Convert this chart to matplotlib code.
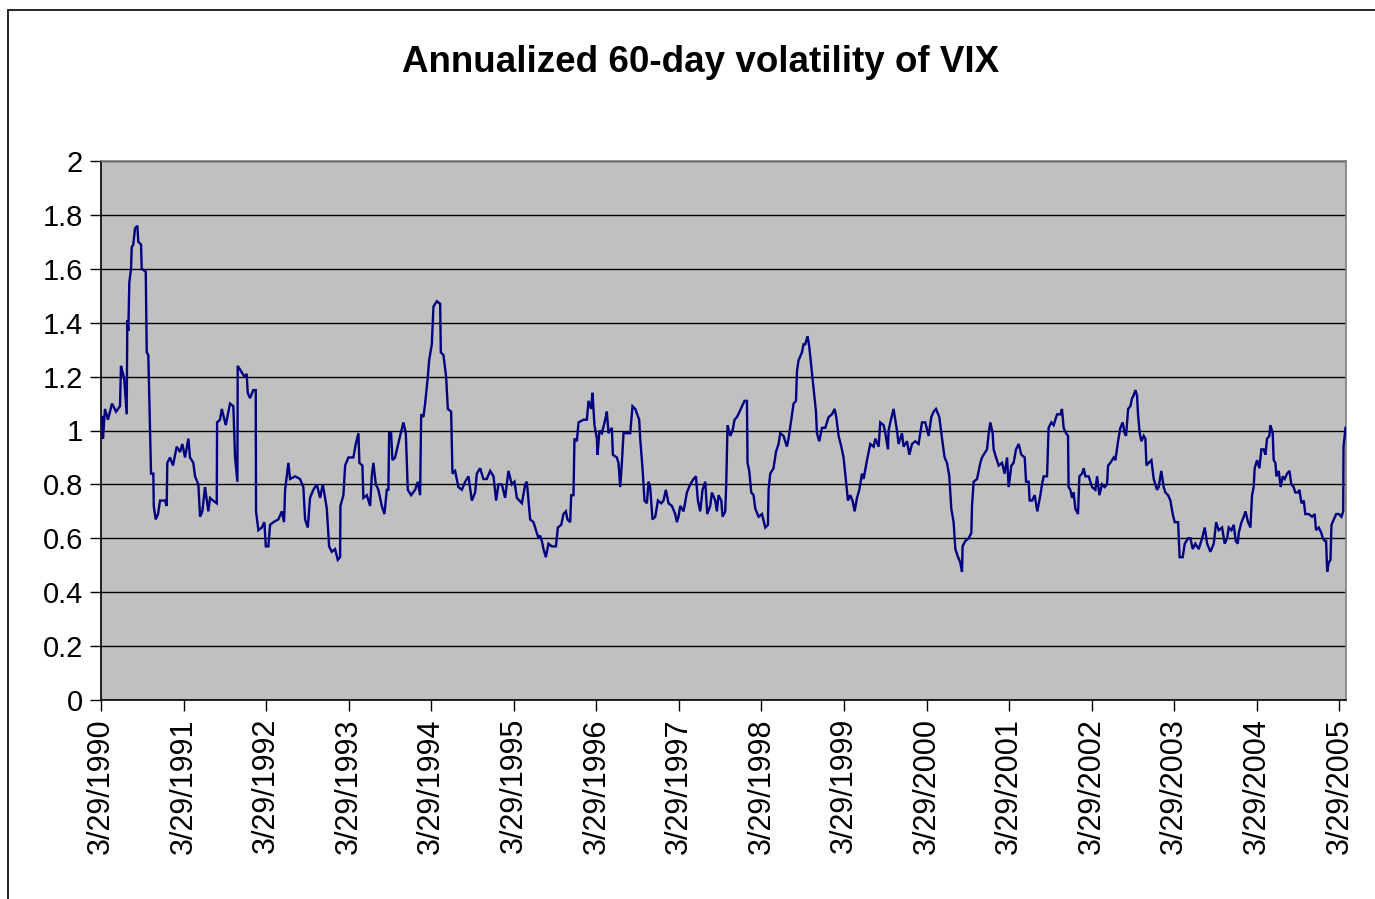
import matplotlib
matplotlib.use("Agg")
import matplotlib.pyplot as plt
from matplotlib.patches import Rectangle

plt.rcParams["font.family"] = ["Liberation Sans", "DejaVu Sans"]

# years since 3/29/1990 and annualized 60-day volatility of VIX
years = [
    0.016, 0.024, 0.048, 0.085, 0.133, 0.182, 0.230, 0.242, 0.267, 0.282, 0.311, 0.319, 0.331, 0.343,
    0.364, 0.372, 0.391, 0.412, 0.440, 0.452, 0.485, 0.493, 0.542, 0.554, 0.573, 0.606, 0.634, 0.639,
    0.663, 0.691, 0.715, 0.775, 0.796, 0.803, 0.836, 0.872, 0.917, 0.957, 0.985, 1.018, 1.058, 1.078,
    1.118, 1.139, 1.179, 1.200, 1.227, 1.260, 1.300,
    1.321, 1.357, 1.402, 1.406, 1.442, 1.463, 1.511, 1.563, 1.603, 1.624, 1.652, 1.656, 1.696, 1.736,
    1.765, 1.777, 1.805, 1.845, 1.874, 1.878, 1.906, 1.947, 1.979, 1.996, 2.027, 2.048, 2.088, 2.148,
    2.190, 2.217, 2.230, 2.270, 2.290, 2.351, 2.411, 2.451, 2.472, 2.505, 2.532, 2.572, 2.614, 2.654,
    2.686, 2.714, 2.735, 2.763, 2.795, 2.835, 2.868, 2.896, 2.900, 2.936, 2.957, 2.997, 3.057, 3.086,
    3.118, 3.130, 3.166, 3.178, 3.220, 3.260, 3.280, 3.299, 3.329, 3.360, 3.401, 3.433, 3.462, 3.481,
    3.490, 3.514, 3.530, 3.562, 3.623, 3.663, 3.692, 3.716, 3.756, 3.805, 3.838, 3.865, 3.878, 3.905,
    3.926,
    3.959, 3.974, 4.007, 4.027, 4.068, 4.108, 4.116, 4.148, 4.180, 4.201, 4.241, 4.257, 4.289, 4.329,
    4.371, 4.411, 4.451, 4.492, 4.532, 4.552, 4.592, 4.632, 4.673, 4.714, 4.754, 4.786, 4.814, 4.855,
    4.895, 4.935, 4.976, 5.008, 5.037, 5.098, 5.138, 5.158, 5.178, 5.198, 5.238, 5.259,
    5.299, 5.319, 5.340, 5.360, 5.388, 5.420, 5.461, 5.510, 5.534, 5.574, 5.602, 5.631, 5.650, 5.683,
    5.695, 5.723, 5.735, 5.764, 5.784, 5.844, 5.885, 5.905, 5.937, 5.953, 5.977, 6.006, 6.014, 6.038,
    6.067, 6.107, 6.127, 6.147, 6.188, 6.200, 6.248, 6.268, 6.289, 6.309, 6.329, 6.410, 6.438, 6.471,
    6.519, 6.531, 6.559, 6.583, 6.612, 6.632,
    6.652, 6.680, 6.713, 6.746, 6.786, 6.813, 6.842, 6.874, 6.915, 6.955, 6.975, 6.995, 7.016, 7.056,
    7.097, 7.137, 7.177, 7.206, 7.230, 7.258, 7.286, 7.319, 7.343, 7.379, 7.400, 7.440, 7.460, 7.480,
    7.513, 7.529, 7.561, 7.573, 7.589, 7.622, 7.650, 7.674, 7.703, 7.735, 7.764, 7.795, 7.824, 7.831,
    7.852, 7.876, 7.904, 7.925, 7.965,
    8.006, 8.046, 8.078, 8.086, 8.106, 8.146, 8.175, 8.207, 8.227, 8.267, 8.308, 8.328, 8.361, 8.389,
    8.418, 8.430, 8.449, 8.490, 8.510, 8.530, 8.558, 8.579, 8.603, 8.631, 8.660, 8.672, 8.700, 8.733,
    8.773, 8.813, 8.854, 8.886, 8.906, 8.934, 8.967, 8.994, 9.024, 9.048, 9.075, 9.103, 9.128, 9.157,
    9.185, 9.217, 9.237, 9.278, 9.318,
    9.358, 9.379, 9.419, 9.439, 9.479, 9.500, 9.532, 9.540, 9.560, 9.600, 9.621, 9.641, 9.661, 9.702,
    9.721, 9.763, 9.791, 9.823, 9.863, 9.903, 9.944, 9.984, 10.025, 10.057, 10.085, 10.114, 10.154,
    10.187, 10.218, 10.247, 10.275, 10.299, 10.327, 10.348, 10.381, 10.408, 10.429, 10.436, 10.469,
    10.509, 10.542, 10.550, 10.570, 10.611, 10.651,
    10.671, 10.691, 10.732, 10.752, 10.772, 10.800, 10.812, 10.841, 10.873, 10.914, 10.945, 10.975,
    10.994, 11.027, 11.054, 11.083, 11.115, 11.148, 11.188, 11.205, 11.236, 11.248, 11.277, 11.309,
    11.341, 11.378, 11.398, 11.418, 11.459, 11.478, 11.511, 11.539, 11.580, 11.620, 11.640, 11.660,
    11.689, 11.713, 11.720, 11.741, 11.762, 11.781, 11.802, 11.834, 11.851, 11.883, 11.903, 11.923,
    11.963, 11.984,
    12.004, 12.044, 12.065, 12.093, 12.125, 12.157, 12.186, 12.198, 12.226, 12.266, 12.287, 12.319,
    12.347, 12.375, 12.399, 12.416, 12.441, 12.468, 12.489, 12.508, 12.529, 12.549, 12.561, 12.581,
    12.602, 12.630, 12.650, 12.663, 12.690, 12.723, 12.751, 12.791, 12.811, 12.843, 12.872, 12.892,
    12.925, 12.953, 12.981, 13.005, 13.046, 13.065, 13.102, 13.127, 13.168, 13.196, 13.223, 13.255,
    13.296, 13.337, 13.369, 13.398, 13.438, 13.478, 13.507, 13.538, 13.579, 13.611, 13.640, 13.660,
    13.692, 13.720, 13.744, 13.769, 13.781, 13.814, 13.842, 13.862, 13.894, 13.922, 13.942, 13.962,
    13.974, 14.003, 14.031, 14.055, 14.083, 14.104, 14.124, 14.152, 14.164, 14.192, 14.204, 14.225,
    14.237, 14.265, 14.289, 14.313, 14.337, 14.367, 14.395, 14.418, 14.446, 14.466, 14.499, 14.515,
    14.541, 14.569, 14.587, 14.628, 14.669, 14.701, 14.717, 14.750, 14.781, 14.799, 14.823, 14.839,
    14.852, 14.871, 14.892, 14.904, 14.932, 14.961, 14.993, 15.025, 15.046, 15.050, 15.074,
]
vol = [
    1.05, 0.97, 1.08, 1.04, 1.10, 1.07, 1.09, 1.24, 1.21, 1.19, 1.06, 1.41, 1.37, 1.55,
    1.60, 1.68, 1.69, 1.75, 1.76, 1.70, 1.69, 1.60, 1.59, 1.29, 1.28, 0.84, 0.84, 0.72,
    0.67, 0.69, 0.74, 0.74, 0.72, 0.88, 0.90, 0.87, 0.94, 0.92, 0.95, 0.90, 0.97, 0.90,
    0.88, 0.83, 0.80, 0.68, 0.70, 0.79, 0.70,
    0.75, 0.74, 0.73, 1.03, 1.04, 1.08, 1.02, 1.10, 1.09, 0.90, 0.81, 1.24, 1.22, 1.20,
    1.21, 1.14, 1.12, 1.15, 1.15, 0.70, 0.63, 0.64, 0.66, 0.57, 0.57, 0.65, 0.66, 0.67,
    0.70, 0.66, 0.78, 0.88, 0.82, 0.83, 0.82, 0.79, 0.67, 0.64, 0.75, 0.78, 0.80, 0.75,
    0.80, 0.75, 0.71, 0.57, 0.55, 0.56, 0.52, 0.53, 0.72, 0.76, 0.87, 0.90, 0.90, 0.95,
    0.99, 0.88, 0.87, 0.75, 0.76, 0.72, 0.83, 0.88, 0.80, 0.78, 0.72, 0.69, 0.78, 0.78,
    0.99, 0.99, 0.89, 0.90, 0.98, 1.03, 0.99, 0.78, 0.76, 0.78, 0.81, 0.76, 1.06, 1.05,
    1.10,
    1.20, 1.26, 1.32, 1.46, 1.48, 1.47, 1.29, 1.28, 1.20, 1.08, 1.07, 0.84, 0.85, 0.79,
    0.78, 0.81, 0.83, 0.74, 0.77, 0.84, 0.86, 0.82, 0.82, 0.85, 0.83, 0.74, 0.80, 0.80,
    0.75, 0.85, 0.80, 0.81, 0.75, 0.73, 0.80, 0.81, 0.74, 0.67, 0.66, 0.64,
    0.60, 0.61, 0.59, 0.56, 0.53, 0.58, 0.57, 0.57, 0.64, 0.65, 0.69, 0.70, 0.67, 0.66,
    0.76, 0.76, 0.97, 0.96, 1.03, 1.04, 1.04, 1.11, 1.08, 1.14, 1.02, 0.97, 0.91, 1.00,
    0.99, 1.04, 1.07, 0.99, 1.01, 0.91, 0.90, 0.88, 0.79, 0.88, 0.99, 0.99, 1.09, 1.08,
    1.04, 0.97, 0.86, 0.74, 0.73, 0.81,
    0.79, 0.67, 0.68, 0.74, 0.73, 0.74, 0.78, 0.73, 0.72, 0.69, 0.66, 0.68, 0.72, 0.70,
    0.77, 0.80, 0.82, 0.83, 0.74, 0.70, 0.78, 0.81, 0.69, 0.72, 0.77, 0.74, 0.70, 0.76,
    0.74, 0.68, 0.70, 0.80, 1.02, 0.98, 1.00, 1.04, 1.05, 1.07, 1.09, 1.11, 1.11, 0.88,
    0.85, 0.77, 0.76, 0.71, 0.68,
    0.69, 0.64, 0.65, 0.78, 0.84, 0.86, 0.92, 0.95, 0.99, 0.98, 0.94, 0.97, 1.04, 1.10,
    1.11, 1.22, 1.26, 1.29, 1.32, 1.32, 1.35, 1.31, 1.24, 1.16, 1.07, 0.99, 0.96, 1.01,
    1.01, 1.05, 1.06, 1.08, 1.05, 0.98, 0.94, 0.90, 0.81, 0.74, 0.76, 0.74, 0.70, 0.75,
    0.78, 0.84, 0.82, 0.89, 0.95,
    0.94, 0.97, 0.94, 1.03, 1.02, 0.99, 0.93, 1.00, 1.03, 1.08, 1.04, 1.00, 0.95, 0.99,
    0.94, 0.96, 0.91, 0.95, 0.96, 0.95, 1.03, 1.03, 0.98, 1.05, 1.07, 1.08, 1.05,
    0.97, 0.90, 0.88, 0.83, 0.71, 0.66, 0.56, 0.53, 0.51, 0.475, 0.57, 0.59,
    0.60, 0.62, 0.72, 0.81, 0.82, 0.88,
    0.90, 0.91, 0.93, 0.99, 1.03, 0.99, 0.93, 0.90, 0.87, 0.88, 0.84, 0.90,
    0.79, 0.87, 0.88, 0.93, 0.95, 0.91, 0.90, 0.81, 0.81, 0.74, 0.74, 0.76,
    0.70, 0.76, 0.80, 0.83, 0.83, 1.01, 1.03, 1.02, 1.06, 1.06, 1.08, 1.01,
    0.99, 0.98, 0.79, 0.78, 0.75, 0.77, 0.71, 0.69, 0.83, 0.84, 0.86, 0.83,
    0.83, 0.81,
    0.79, 0.78, 0.83, 0.76, 0.80, 0.79, 0.80, 0.87, 0.88, 0.90, 0.89, 0.96,
    1.01, 1.03, 0.99, 0.98, 1.08, 1.09, 1.12, 1.13, 1.15, 1.13, 1.06, 0.99,
    0.96, 0.98, 0.97, 0.87, 0.88, 0.89, 0.82, 0.78, 0.79, 0.85, 0.79, 0.77,
    0.76, 0.74, 0.69, 0.66, 0.66, 0.53, 0.53, 0.58, 0.60, 0.60, 0.56, 0.58,
    0.56, 0.60, 0.64, 0.58, 0.55, 0.58, 0.66, 0.63, 0.64, 0.58, 0.60, 0.64,
    0.63, 0.65, 0.59, 0.58, 0.62, 0.66, 0.68, 0.70, 0.66, 0.64, 0.76, 0.79,
    0.86, 0.89, 0.86, 0.93, 0.93, 0.91, 0.97, 0.98, 1.02, 0.99, 0.89, 0.88,
    0.83, 0.85, 0.79, 0.83, 0.82, 0.84, 0.85, 0.80, 0.79, 0.77, 0.77, 0.78,
    0.73, 0.74, 0.69, 0.69, 0.68, 0.69, 0.63, 0.64, 0.62, 0.60, 0.59, 0.59,
    0.476, 0.51, 0.52, 0.65, 0.67, 0.69, 0.69, 0.68, 0.70, 0.94, 1.01,
]

tick_years = list(range(16))
tick_labels = [f"3/29/{1990 + k}" for k in tick_years]
y_ticks = [0, 0.2, 0.4, 0.6, 0.8, 1, 1.2, 1.4, 1.6, 1.8, 2]
y_labels = ["0", "0.2", "0.4", "0.6", "0.8", "1", "1.2", "1.4", "1.6", "1.8", "2"]

fig = plt.figure(figsize=(13.75, 8.99), dpi=100)
ax = fig.add_axes([101 / 1375, 1 - 700 / 899, 1245 / 1375, 539 / 899])
ax.set_facecolor("#C0C0C0")

ax.plot(years, vol, color="#000080", linewidth=1.7, solid_joinstyle="miter", zorder=3)

ax.set_xlim(0, 15.08)
ax.set_ylim(0, 2)
ax.set_yticks(y_ticks)
ax.set_yticklabels(y_labels, fontsize=21)
ax.set_xticks(tick_years)
ax.set_xticklabels(tick_labels, rotation=90, fontsize=22)
ax.tick_params(axis="both", direction="out", length=8, width=1, color="black", pad=5)
ax.yaxis.grid(True, color="black", linewidth=1)
ax.set_axisbelow(True)

ax.spines["left"].set_color("black")
ax.spines["bottom"].set_color("black")
ax.spines["top"].set_color("#808080")
ax.spines["right"].set_color("#808080")
for s in ax.spines.values():
    s.set_linewidth(1.2)

fig.text(701 / 1375, 1 - 63 / 899, "Annualized 60-day volatility of VIX",
         ha="center", va="center", fontsize=26.5, fontweight="bold")

# outer chart frame (left and top edges visible)
fig.patches.append(Rectangle((8 / 1375, -0.1), 1.2, 1 - 10 / 899 + 0.1,
                             transform=fig.transFigure, fill=False,
                             edgecolor="black", linewidth=1.2))

fig.savefig("out.png", dpi=100)
